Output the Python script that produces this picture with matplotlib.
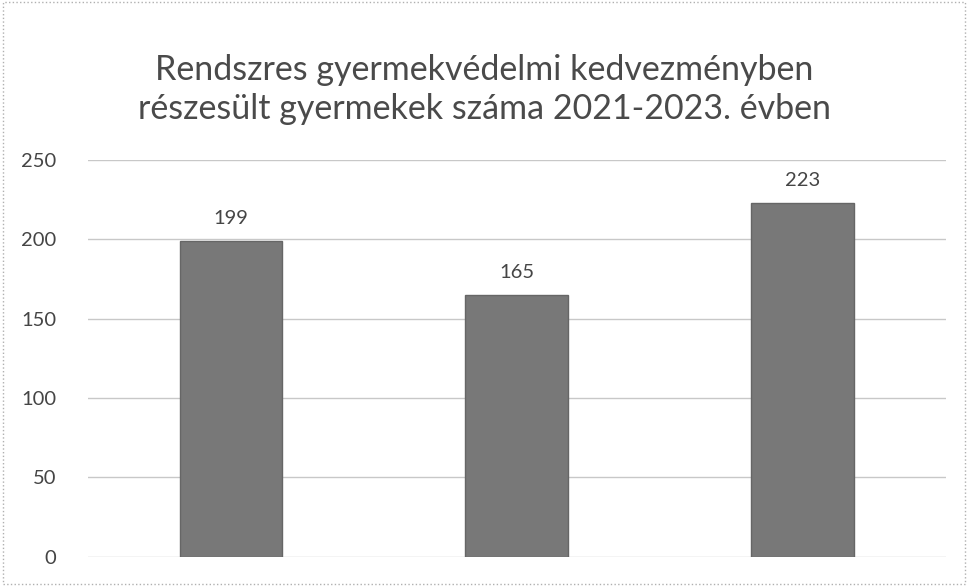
import matplotlib.pyplot as plt

years = ["2021", "2022", "2023"]
counts = [199, 165, 223]
yticks = [0, 50, 100, 150, 200, 250]

plt.rcParams['font.family'] = ['Lato', 'DejaVu Sans']

fig = plt.figure(figsize=(9.68, 5.86), dpi=100)
ax = fig.add_axes([0.091, 0.05, 0.886, 0.677])

x = range(len(years))
bars = ax.bar(x, counts, width=0.36, color='#787878', edgecolor='#666666', linewidth=1, zorder=3)
for b, v in zip(bars, counts):
    ax.text(b.get_x() + b.get_width() / 2, v + 9, str(v), ha='center', va='bottom',
            fontsize=14.5, color='#454545')

ax.set_ylim(0, 250)
ax.set_xlim(-0.5, 2.5)
ax.set_yticks(yticks)
ax.set_yticklabels([str(t) for t in yticks], fontsize=14.5, color='#454545')
ax.set_xticks([])
ax.tick_params(axis='y', length=0, pad=23)
ax.yaxis.grid(True, color='#c8c8c8', linewidth=1, zorder=0)
for s in ax.spines.values():
    s.set_visible(False)

fig.text(0.5, 0.847, "Rendszres gyermekvédelmi kedvezményben\nrészesült gyermekek száma 2021-2023. évben",
         ha='center', va='center', fontsize=24.5, color='#4a4a4a', linespacing=1.25)

border = plt.Rectangle((0.003, 0.003), 0.994, 0.994, transform=fig.transFigure,
                       fill=False, edgecolor='#b0b0b0', linewidth=1, linestyle=':')
fig.patches.append(border)

fig.savefig("out.png", dpi=100)
